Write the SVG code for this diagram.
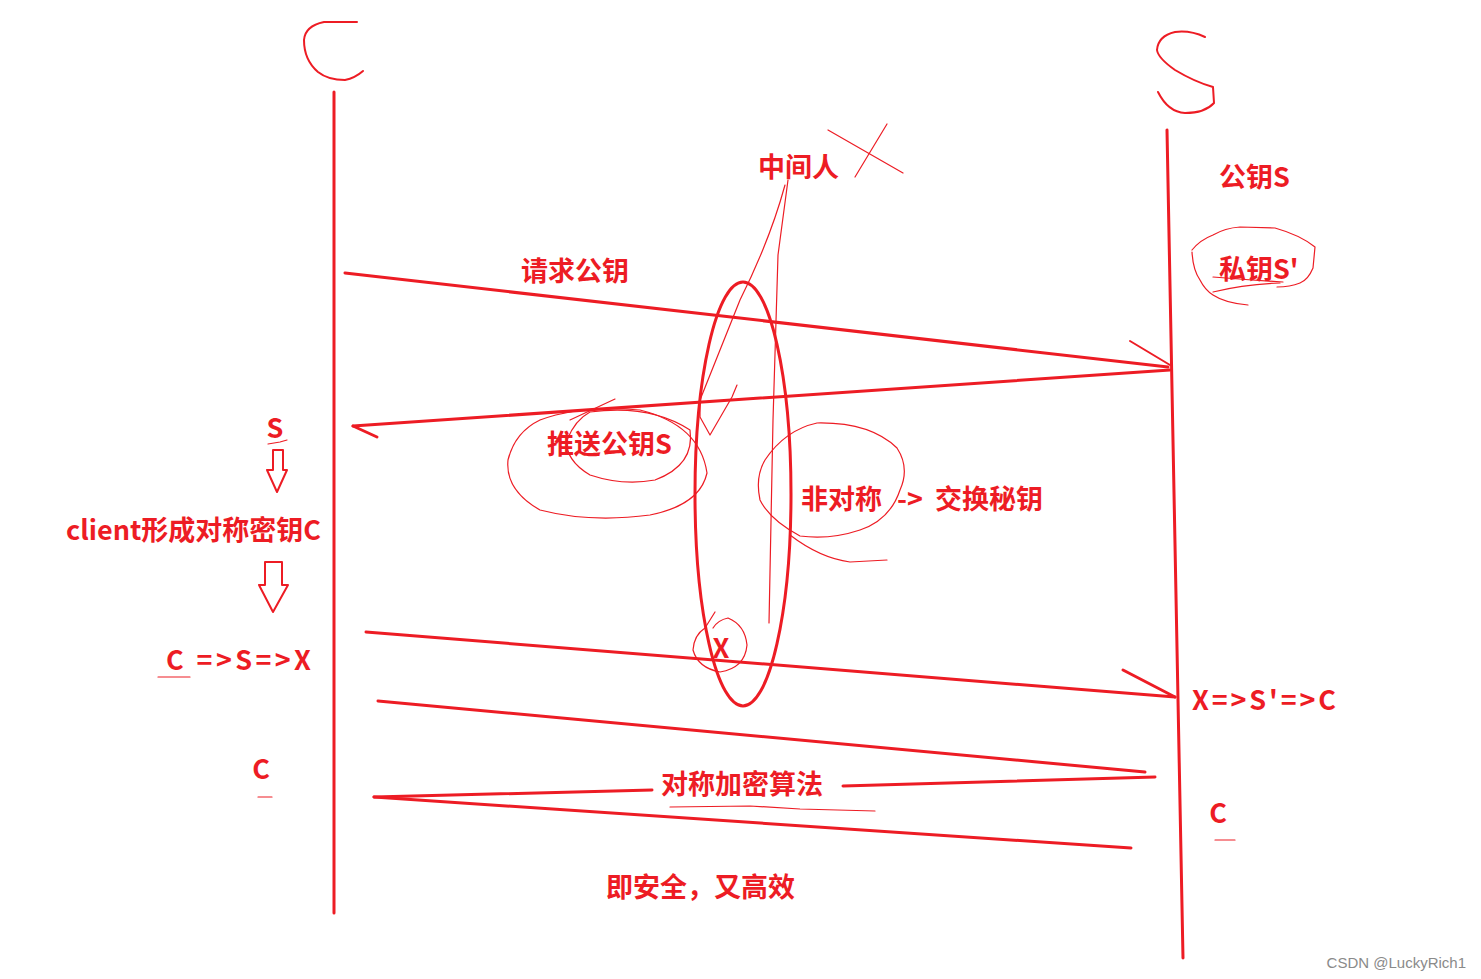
<svg xmlns="http://www.w3.org/2000/svg" width="1481" height="979" viewBox="0 0 1481 979">
<style>
.t{font-family:"Noto Sans CJK SC","Noto Sans",sans-serif;font-weight:bold;fill:#ED1C24;font-size:27px;dominant-baseline:central}
.k{fill:none;stroke:#ED1C24;stroke-width:3;stroke-linecap:round;stroke-linejoin:round}
.f{fill:none;stroke:#ED1C24;stroke-width:1.2;stroke-linecap:round;stroke-linejoin:round}
.m{fill:none;stroke:#ED1C24;stroke-width:2;stroke-linecap:round;stroke-linejoin:round}
</style>
<rect width="1481" height="979" fill="#fff"/>
<g id="client">
<path class="m" d="M357,22 L324,22 Q305,26 304,40 Q304,60 318,72 Q328,80 345,80 Q355,78 363,71"/>
<line class="k" x1="334" y1="92" x2="334" y2="913"/>
</g>
<g id="server">
<path class="m" d="M1205,37 Q1190,30 1175,32 Q1158,36 1157,50 Q1158,58 1175,70 Q1195,82 1213,87 L1214,103 Q1205,113 1185,113 Q1168,112 1158,92"/>
<line class="k" x1="1167" y1="130" x2="1183" y2="958"/>
<text class="t" x="1219" y="175">公钥S</text>
<text class="t" x="1219" y="267">私钥S'</text>
<path class="f" d="M1192,250 Q1200,240 1213,235 Q1225,228 1240,227 L1275,228 Q1300,235 1315,247 L1313,268 Q1308,280 1300,283 Q1290,287 1277,287"/>
<path class="f" d="M1192,252 Q1193,270 1200,280 Q1205,290 1213,295 Q1225,303 1248,305"/>
<path class="f" d="M1213,292 Q1245,284 1280,283"/>
<path class="f" d="M1213,277 Q1250,280 1283,282"/>
</g>
<g id="mitm">
<text class="t" x="758" y="165">中间人</text>
<line class="f" x1="828" y1="130" x2="903" y2="173"/>
<line class="f" x1="887" y1="124" x2="855" y2="177"/>
<path class="f" d="M788,180 L778,255 L773,420 L769,623"/>
<path class="f" d="M785,185 Q770,240 740,300 L700,400"/>
<path class="f" d="M700,400 L700,417 L710,435 L732,397 L737,385"/>
<ellipse class="k" cx="743" cy="494" rx="48" ry="212"/>
<text class="t" x="721" y="646" text-anchor="middle">X</text>
<path class="f" d="M715,612 L705,628 Q694,635 693,650 Q698,668 720,672 Q745,668 747,645 Q745,625 728,618 Q718,620 713,628"/>
</g>
<g id="client-notes">
<text class="t" x="275" y="426" text-anchor="middle">S</text>
<path class="f" d="M268,444 L280,442 L287,440"/>
<path class="m" d="M273,450 L283,450 L283,470 L287,470 L277,492 L267,470 L273,470 Z"/>
<text class="t" x="66" y="528">client形成对称密钥C</text>
<path class="m" d="M265,562 L282,562 L282,585 L288,585 L273,612 L259,585 L265,585 Z"/>
<text class="t" x="166" y="658" textLength="145" lengthAdjust="spacing">C =&gt;S=&gt;X</text>
<line class="f" x1="158" y1="677" x2="190" y2="677"/>
<text class="t" x="261" y="767" text-anchor="middle">C</text>
<line class="f" x1="258" y1="797" x2="272" y2="797"/>
</g>
<g id="server-notes">
<text class="t" x="1192" y="698" textLength="144" lengthAdjust="spacing">X=&gt;S'=&gt;C</text>
<text class="t" x="1218" y="811" text-anchor="middle">C</text>
<line class="f" x1="1215" y1="840" x2="1235" y2="840"/>
</g>
<g id="push">
<text class="t" x="547" y="442">推送公钥S</text>
<path class="f" d="M590,412 Q650,404 690,430 Q695,465 655,480 Q623,486 590,475 Q565,460 567,440 Q575,420 590,412"/>
<path class="f" d="M540,420 Q580,405 640,410 Q700,425 707,473 Q700,505 650,515 Q590,523 540,510 Q505,490 508,460 Q515,432 540,420"/>
<line class="f" x1="570" y1="420" x2="615" y2="399"/>
</g>
<g id="asym">
<text class="t" x="801" y="497">非对称</text>
<text class="t" x="897" y="497">-&gt;</text>
<text class="t" x="935" y="497">交换秘钥</text>
<path class="f" d="M817,423 Q870,422 897,448 Q910,468 900,490 Q890,520 860,530 Q830,540 800,536 Q770,520 760,500 Q755,477 765,460 Q785,430 817,423"/>
<path class="f" d="M790,535 Q820,558 850,562 L887,560"/>
</g>
<g id="connectors">
<line class="k" x1="345" y1="273" x2="1168" y2="367"/>
<line class="m" x1="1130" y1="341" x2="1170" y2="365"/>
<line class="k" x1="1170" y1="370" x2="353" y2="426"/>
<line class="k" x1="353" y1="426" x2="377" y2="437"/>
<line class="k" x1="366" y1="632" x2="1175" y2="697"/>
<line class="k" x1="1123" y1="670" x2="1175" y2="697"/>
<line class="k" x1="378" y1="701" x2="1145" y2="772"/>
<line class="k" x1="1155" y1="777" x2="843" y2="786"/>
<line class="k" x1="652" y1="790" x2="374" y2="797"/>
<line class="k" x1="374" y1="797" x2="1131" y2="848"/>
<path class="f" d="M670,807 L750,806 L800,809 L875,811"/>
</g>
<g id="labels">
<text class="t" x="521" y="269">请求公钥</text>
<text class="t" x="661" y="782">对称加密算法</text>
<text class="t" x="606" y="885">即安全，又高效</text>
<text x="1466" y="962" text-anchor="end" style="font-family:'Liberation Sans',sans-serif;font-size:15px;fill:#8a8a8a;dominant-baseline:central">CSDN @LuckyRich1</text>
</g>
</svg>
